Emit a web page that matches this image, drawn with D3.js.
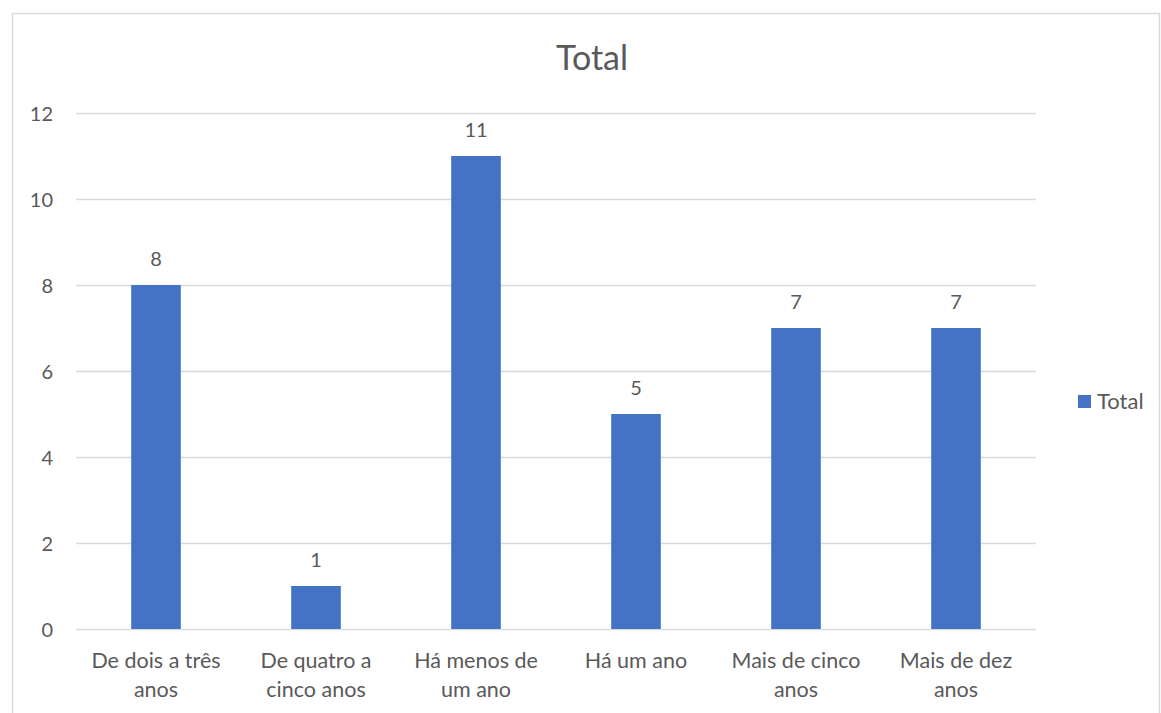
<!DOCTYPE html>
<html>
<head>
<meta charset="utf-8">
<script src="https://cdn.jsdelivr.net/npm/d3@7/dist/d3.min.js"></script>
<style>
  body { margin: 0; background: #fff; }
  svg text { font-family: Lato, "Open Sans", sans-serif; fill: #595959; }
</style>
</head>
<body>
<svg id="chart" width="1161" height="713"></svg>
<script>
const categories = [
  ["De dois a três", "anos"],
  ["De quatro a", "cinco anos"],
  ["Há menos de", "um ano"],
  ["Há um ano"],
  ["Mais de cinco", "anos"],
  ["Mais de dez", "anos"]
];
const values = [8, 1, 11, 5, 7, 7];
const yTicks = [0, 2, 4, 6, 8, 10, 12];
const seriesName = "Total";

const svg = d3.select("#chart");

// Outer chart frame
svg.append("rect")
  .attr("x", 12.5).attr("y", 13.5)
  .attr("width", 1147).attr("height", 720)
  .attr("fill", "none").attr("stroke", "#d9d9d9").attr("stroke-width", 1.5);

const plot = { left: 76, right: 1036, top: 113, bottom: 629 };

const x = d3.scaleBand()
  .domain(d3.range(categories.length))
  .range([plot.left, plot.right])
  .paddingInner(0.69).paddingOuter(0.345);

const y = d3.scaleLinear().domain([0, 12]).range([plot.bottom, plot.top]);

// Gridlines
svg.append("g")
  .selectAll("line").data(yTicks).join("line")
  .attr("x1", plot.left).attr("x2", plot.right)
  .attr("y1", d => Math.round(y(d)) + 0.5).attr("y2", d => Math.round(y(d)) + 0.5)
  .attr("stroke", "#d9d9d9").attr("stroke-width", 1.3);

// Y axis labels
const yAxis = d3.axisLeft(y).tickValues(yTicks).tickSize(0).tickPadding(0);
svg.append("g")
  .attr("transform", `translate(${plot.left - 23},0)`)
  .call(yAxis)
  .call(g => g.select(".domain").remove())
  .selectAll("text")
  .style("font-size", "20px")
  .attr("fill", "#595959")
  .attr("dy", "0.35em");

// Value labels
const labelGap = 19;
// Bars
svg.append("g")
  .selectAll("rect").data(values).join("rect")
  .attr("x", (d, i) => x(i))
  .attr("width", x.bandwidth())
  .attr("y", d => y(d))
  .attr("height", d => y(0) - y(d))
  .attr("fill", "#4472c4");

svg.append("g")
  .selectAll("text").data(values).join("text")
  .attr("x", (d, i) => x(i) + x.bandwidth() / 2)
  .attr("y", d => y(d) - labelGap)
  .attr("text-anchor", "middle")
  .style("font-size", "20px")
  .text(d => d);

// Category labels
const cat = svg.append("g")
  .selectAll("text").data(categories).join("text")
  .attr("text-anchor", "middle")
  .style("font-size", "21.5px");
cat.each(function (lines, i) {
  const t = d3.select(this);
  lines.forEach((ln, k) => {
    t.append("tspan")
      .attr("x", x(i) + x.bandwidth() / 2)
      .attr("y", 668 + k * 29)
      .text(ln);
  });
});

// Title
svg.append("text")
  .attr("x", 592).attr("y", 70)
  .attr("text-anchor", "middle")
  .style("font-size", "34px")
  .text(seriesName);

// Legend
svg.append("rect")
  .attr("x", 1078).attr("y", 395)
  .attr("width", 13).attr("height", 13)
  .attr("fill", "#4472c4");
svg.append("text")
  .attr("x", 1097).attr("y", 409)
  .style("font-size", "22px")
  .text(seriesName);
</script>
</body>
</html>
